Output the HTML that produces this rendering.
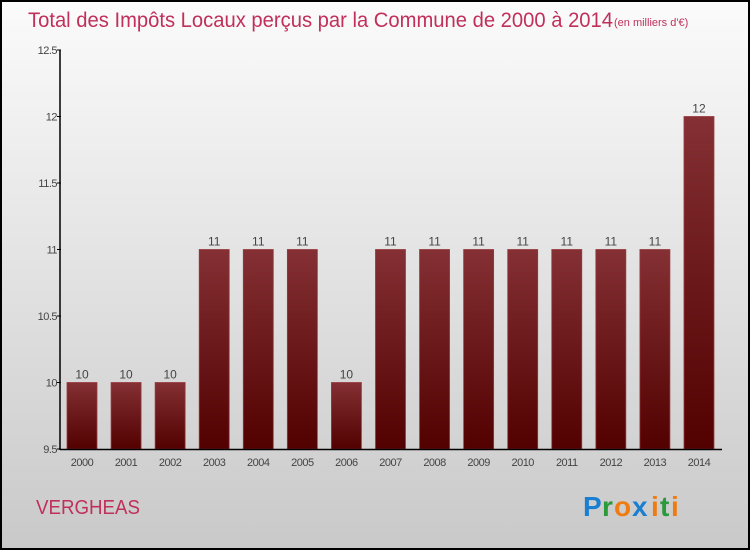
<!DOCTYPE html>
<html><head><meta charset="utf-8"><style>
html,body{margin:0;padding:0}
body{width:750px;height:550px;overflow:hidden;font-family:"Liberation Sans",sans-serif}
</style></head><body>
<svg id="chart" width="750" height="550" xmlns="http://www.w3.org/2000/svg">
<defs>
<linearGradient id="bg" x1="0" y1="0" x2="0" y2="1"><stop offset="0" stop-color="#fbfbfb"/><stop offset="1" stop-color="#c9c9c9"/></linearGradient>
<linearGradient id="barg" x1="0" y1="0" x2="0" y2="1"><stop offset="0" stop-color="#843034"/><stop offset="1" stop-color="#520000"/></linearGradient>
</defs>
<rect x="1" y="1" width="748" height="548" fill="url(#bg)" stroke="#000" stroke-width="2"/>
<text x="28" y="27" font-size="21" fill="#c0305a" textLength="585" lengthAdjust="spacingAndGlyphs">Total des Impôts Locaux perçus par la Commune de 2000 à 2014</text>
<text x="614" y="26" font-size="11" fill="#c0305a">(en milliers d'€)</text>
<g id="yaxis"></g>
<g id="bars"></g>
<g id="xaxis"></g>
<text x="36" y="514" font-size="20" fill="#c0305a" textLength="104" lengthAdjust="spacingAndGlyphs">VERGHEAS</text>
<g font-size="28" font-family="'Liberation Sans',sans-serif" font-weight="bold">
<text x="583" y="516" fill="#1a7fd0">P</text><text x="602" y="516" fill="#2a9a3a">r</text><text x="614" y="516" fill="#f07b10">o</text><text x="632" y="516" fill="#1a7fd0">x</text><text x="651" y="516" fill="#f07b10">i</text><text x="660" y="516" fill="#2a9a3a">t</text><text x="671" y="516" fill="#f07b10">i</text>
</g>
</svg>
<script>
const years=["2000","2001","2002","2003","2004","2005","2006","2007","2008","2009","2010","2011","2012","2013","2014"];
const values=[10,10,10,11,11,11,10,11,11,11,11,11,11,11,12];
const yTicks=[9.5,10,10.5,11,11.5,12,12.5];
const yTickLabels=["9.5","10","10.5","11","11.5","12","12.5"];
const NS="http://www.w3.org/2000/svg";
const yMin=9.5,yMax=12.5,yTop=50,yBot=449;
function y(v){return yBot-(v-yMin)/(yMax-yMin)*(yBot-yTop);}
function x(i){return 67+i*44.07;}
const bw=30;
function mk(t,a,p){const e=document.createElementNS(NS,t);for(const k in a)e.setAttribute(k,a[k]);p.appendChild(e);return e;}
const ya=document.getElementById('yaxis'),ba=document.getElementById('bars'),xa=document.getElementById('xaxis');
const ax=mk('line',{x1:60,y1:yTop,x2:60,y2:yBot+1,stroke:'#000','stroke-width':1.5},ya);


yTicks.forEach((v,i)=>{
 const t=mk('line',{x1:57,y1:y(v),x2:61,y2:y(v),stroke:'#000'},ya);
 
 
 const l=mk('text',{x:57,y:y(v)+4,'font-size':11,fill:'#444','text-anchor':'end','letter-spacing':'-0.5'},ya);
 l.textContent=yTickLabels[i];
 
 
});
values.forEach((v,i)=>{
 const r=mk('rect',{x:x(i),y:y(v),width:bw,height:yBot-y(v),fill:'url(#barg)',stroke:'#9a3a3e','stroke-width':0.8},ba);
 
 
 const t=mk('text',{x:x(i)+bw/2,y:y(v)-4,'font-size':12,fill:'#444','text-anchor':'middle'},ba);
 t.textContent=String(v);
 
 
 const yl=mk('text',{x:x(i)+bw/2,y:466,'font-size':11,fill:'#444','text-anchor':'middle','letter-spacing':'-0.5'},xa);
 yl.textContent=years[i];
 
 
});
const bx=mk('line',{x1:60,y1:yBot+0.5,x2:722,y2:yBot+0.5,stroke:'#000','stroke-width':1.5},xa);


</script>
</body></html>
